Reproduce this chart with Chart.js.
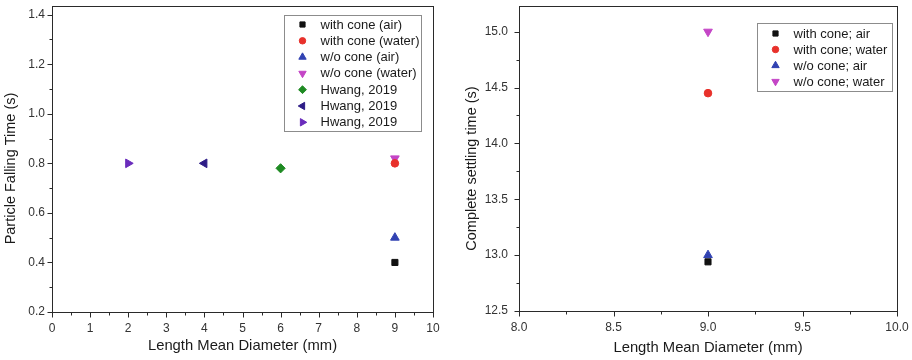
<!DOCTYPE html>
<html>
<head>
<meta charset="utf-8">
<script src="https://cdn.jsdelivr.net/npm/chart.js@4/dist/chart.umd.min.js"></script>
<style>
  html, body { margin: 0; padding: 0; background: #fff; }
  #wrap { position: relative; width: 912px; height: 360px; overflow: hidden; background: #fff; }
  canvas { position: absolute; top: 0; }
  #fallChart { left: 0; }
  #settleChart { left: 450px; }
</style>
</head>
<body>
<div id="wrap">
  <canvas id="fallChart" width="450" height="360"></canvas>
  <canvas id="settleChart" width="462" height="360"></canvas>
</div>
<script>
// Particle falling time against length mean diameter
const fallLabels = ['with cone (air)', 'with cone (water)', 'w/o cone (air)', 'w/o cone (water)',
                    'Hwang, 2019', 'Hwang, 2019', 'Hwang, 2019'];
const fallDiameter = [9, 9, 9, 9, 6, 4, 2];
const fallTime = [0.40, 0.80, 0.50, 0.82, 0.78, 0.80, 0.80];
const fallXTicks = [0, 1, 2, 3, 4, 5, 6, 7, 8, 9, 10];
const fallYTicks = [0.2, 0.4, 0.6, 0.8, 1.0, 1.2, 1.4];

// Complete settling time against length mean diameter
const settleLabels = ['with cone; air', 'with cone; water', 'w/o cone; air', 'w/o cone; water'];
const settleDiameter = [9, 9, 9, 9];
const settleTime = [12.94, 14.45, 13.00, 15.00];
const settleXTicks = [8.0, 8.5, 9.0, 9.5, 10.0];
const settleYTicks = [12.5, 13.0, 13.5, 14.0, 14.5, 15.0];

// Marker look for each series (same order in both plots)
const markers = [
  { style: 'rect',     rot: 0,   color: '#111111', r: 4.3 },
  { style: 'circle',   rot: 0,   color: '#e8312b', r: 3.8 },
  { style: 'triangle', rot: 0,   color: '#3142b2', r: 5.0 },
  { style: 'triangle', rot: 180, color: '#c445c6', r: 5.0 },
  { style: 'rectRot',  rot: 0,   color: '#1e8a22', r: 4.6 },
  { style: 'triangle', rot: -90, color: '#2d1c86', r: 5.0 },
  { style: 'triangle', rot: 90,  color: '#6a2cbc', r: 5.0 }
];

const FONT = '"Liberation Sans", Arial, Helvetica, sans-serif';

// Draws the boxed frame, outward major/minor ticks, the rotated y title and the inset legend
const framePlugin = {
  id: 'frame',
  afterDraw(chart, args, o) {
    const ctx = chart.ctx;
    const a = chart.chartArea;
    const xs = chart.scales.x, ys = chart.scales.y;
    ctx.save();

    // frame
    ctx.strokeStyle = '#2a2a2a';
    ctx.lineWidth = 1;
    ctx.strokeRect(Math.round(a.left) + 0.5, Math.round(a.top) + 0.5,
                   Math.round(a.right - a.left), Math.round(a.bottom - a.top));

    // ticks
    const bottom = Math.round(a.bottom) + 0.5;
    const left = Math.round(a.left) + 0.5;
    ctx.beginPath();
    const xt = xs.ticks.map(t => t.value);
    xt.forEach((v, i) => {
      const px = Math.round(xs.getPixelForValue(v)) + 0.5;
      ctx.moveTo(px, bottom); ctx.lineTo(px, bottom + 5);
      if (i < xt.length - 1) {
        const m = Math.round(xs.getPixelForValue((v + xt[i + 1]) / 2)) + 0.5;
        ctx.moveTo(m, bottom); ctx.lineTo(m, bottom + 3);
      }
    });
    const yt = ys.ticks.map(t => t.value);
    yt.forEach((v, i) => {
      const py = Math.round(ys.getPixelForValue(v)) + 0.5;
      ctx.moveTo(left, py); ctx.lineTo(left - 5, py);
      if (i < yt.length - 1) {
        const m = Math.round(ys.getPixelForValue((v + yt[i + 1]) / 2)) + 0.5;
        ctx.moveTo(left, m); ctx.lineTo(left - 3, m);
      }
    });
    ctx.stroke();

    // y axis title
    ctx.save();
    ctx.translate(o.yTitle.x, o.yTitle.y);
    ctx.rotate(-Math.PI / 2);
    ctx.fillStyle = '#1a1a1a';
    ctx.font = '14.5px ' + FONT;
    ctx.textAlign = 'center';
    ctx.textBaseline = 'middle';
    ctx.fillText(o.yTitle.text, 0, 0);
    ctx.restore();

    // legend
    const lg = o.legend;
    ctx.font = '13px ' + FONT;
    const items = chart.data.datasets;
    let maxW = 0;
    items.forEach(d => { maxW = Math.max(maxW, ctx.measureText(d.label).width); });
    const bx = Math.round(a.right - lg.right) + 0.5;
    const by = Math.round(a.top + lg.top) + 0.5;
    const bw = Math.round(lg.textX + maxW + lg.padRight);
    const bh = Math.round(lg.rowTop * 2 + lg.row * (items.length - 1));
    ctx.fillStyle = '#ffffff';
    ctx.fillRect(bx, by, bw, bh);
    ctx.strokeStyle = '#8c8c8c';
    ctx.strokeRect(bx, by, bw, bh);
    items.forEach((d, i) => {
      const cy = by + lg.rowTop + i * lg.row;
      ctx.fillStyle = d.pointBackgroundColor;
      ctx.strokeStyle = d.pointBackgroundColor;
      Chart.helpers.drawPoint(ctx, {
        pointStyle: d.pointStyle, rotation: d.pointRotation,
        radius: d.pointRadius * 0.85, borderWidth: 1
      }, bx + lg.markX, cy);
      ctx.fillStyle = '#1a1a1a';
      ctx.textAlign = 'left';
      ctx.textBaseline = 'middle';
      ctx.fillText(d.label, bx + lg.textX, cy + 0.5);
    });
    ctx.restore();
  }
};

function makeChart(canvas, cfg) {
  const datasets = cfg.labels.map((lab, i) => ({
    label: lab,
    data: [{ x: cfg.xs[i], y: cfg.ys[i] }],
    pointStyle: markers[i].style,
    pointRotation: markers[i].rot,
    pointRadius: markers[i].r,
    pointHoverRadius: markers[i].r,
    pointBackgroundColor: markers[i].color,
    pointBorderColor: markers[i].color,
    pointBorderWidth: 1,
    showLine: false
  }));
  const tickFont = { family: FONT, size: 12 };
  return new Chart(canvas, {
    type: 'scatter',
    data: { datasets },
    options: {
      responsive: false,
      animation: false,
      devicePixelRatio: 1,
      layout: { padding: cfg.padding },
      plugins: {
        legend: { display: false },
        tooltip: { enabled: false },
        frame: { yTitle: cfg.yTitle, legend: cfg.legend }
      },
      scales: {
        x: {
          type: 'linear', min: cfg.xMin, max: cfg.xMax,
          grid: { display: false, drawTicks: false, tickLength: 0 }, border: { display: false },
          ticks: { padding: 9, color: '#333', font: tickFont,
                   callback: v => Number(v).toFixed(cfg.xDec) },
          afterBuildTicks: s => { s.ticks = cfg.xTicks.map(v => ({ value: v })); },
          afterFit: s => { s.height = cfg.xAxisH; s.paddingLeft = 0; s.paddingRight = 0; },
          title: { display: true, text: 'Length Mean Diameter (mm)', color: '#1a1a1a',
                   font: { family: FONT, size: 14.8 }, padding: { top: 0, bottom: cfg.xTitlePad } }
        },
        y: {
          type: 'linear', min: cfg.yMin, max: cfg.yMax,
          grid: { display: false, drawTicks: false, tickLength: 0 }, border: { display: false },
          ticks: { padding: cfg.yTickPad, color: '#333', font: tickFont,
                   callback: v => Number(v).toFixed(1) },
          afterBuildTicks: s => { s.ticks = cfg.yTicks.map(v => ({ value: v })); },
          afterFit: s => { s.width = cfg.yAxisW; s.paddingTop = 0; s.paddingBottom = 0; },
          title: { display: false }
        }
      }
    },
    plugins: [framePlugin]
  });
}

makeChart(document.getElementById('fallChart'), {
  labels: fallLabels, xs: fallDiameter, ys: fallTime,
  xTicks: fallXTicks, yTicks: fallYTicks, xDec: 0,
  xMin: 0, xMax: 10, yMin: 0.2, yMax: 1.435,
  padding: { top: 5, right: 17, left: 0, bottom: 0 },
  yAxisW: 52, xAxisH: 48, xTitlePad: 5, yTickPad: 7,
  yTitle: { text: 'Particle Falling Time (s)', x: 11, y: 168.5 },
  legend: { right: 149, top: 9, markX: 18, textX: 36, padRight: 2, rowTop: 9, row: 16.3 }
});

makeChart(document.getElementById('settleChart'), {
  labels: settleLabels, xs: settleDiameter, ys: settleTime,
  xTicks: settleXTicks, yTicks: settleYTicks, xDec: 1,
  xMin: 8, xMax: 10, yMin: 12.5, yMax: 15.23,
  padding: { top: 6, right: 15, left: 0, bottom: 0 },
  yAxisW: 69, xAxisH: 49, xTitlePad: 3, yTickPad: 11,
  yTitle: { text: 'Complete settling time (s)', x: 22, y: 168.5 },
  legend: { right: 140, top: 17, markX: 18, textX: 36, padRight: 5, rowTop: 10, row: 16 }
});
</script>
</body>
</html>
